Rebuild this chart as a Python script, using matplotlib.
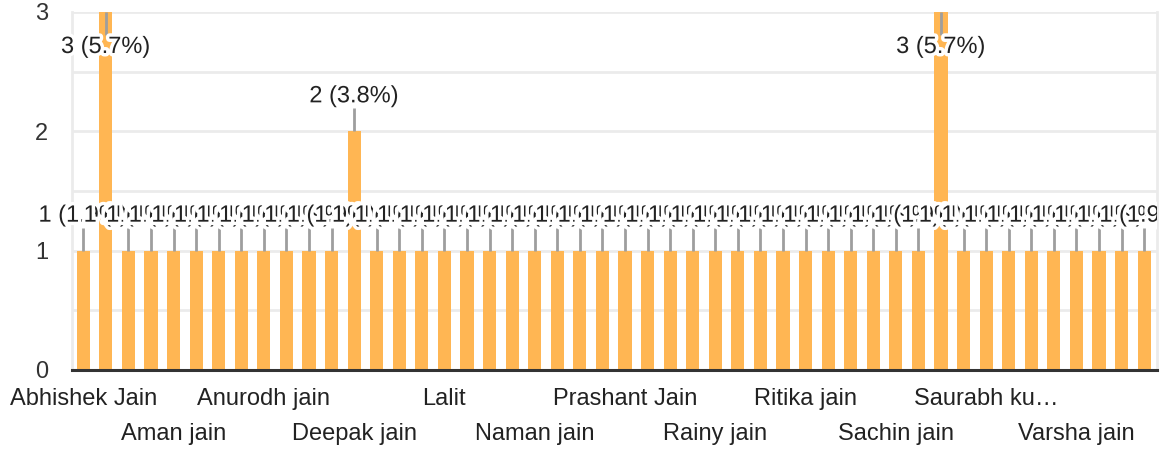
import numpy as np
import matplotlib
matplotlib.use("Agg")
import matplotlib.pyplot as plt
import matplotlib.patheffects as pe
from matplotlib.transforms import Bbox, TransformedBbox, blended_transform_factory

# 48 respondents; only every 4th name is printed on the axis
names = [""] * 48
shown = {0: "Abhishek Jain", 4: "Aman jain", 8: "Anurodh jain", 12: "Deepak jain",
         16: "Lalit", 20: "Naman jain", 24: "Prashant Jain", 28: "Rainy jain",
         32: "Ritika jain", 36: "Sachin jain", 40: "Saurabh ku\u2026", 44: "Varsha jain"}
for k, v in shown.items():
    names[k] = v

counts = [1, 3, 1, 1, 1, 1, 1, 1, 1, 1, 1, 1,
          2, 1, 1, 1, 1, 1, 1, 1, 1, 1, 1, 1,
          1, 1, 1, 1, 1, 1, 1, 1, 1, 1, 1, 1,
          1, 1, 3, 1, 1, 1, 1, 1, 1, 1, 1, 1]

plt.rcParams["font.family"] = ["Liberation Sans", "DejaVu Sans"]

BAR = "#ffb653"
GRID = "#ebebeb"
TXT = "#222222"
FS = 17

fig = plt.figure(figsize=(11.7, 4.5), dpi=100)
ax = fig.add_axes([72 / 1170, 80 / 450, 1085 / 1170, 358 / 450])

x = np.arange(len(counts))
total = sum(counts)
ymax = 3
ax.bar(x, counts, width=0.58, color=BAR, zorder=2)

# labels get cut at the right edge of the plot, like the original
clip = TransformedBbox(Bbox([[-1, 0], [1, 1]]),
                       blended_transform_factory(ax.transAxes, fig.transFigure))

# px -> data units on y
ppu = 358 / ymax
line_len = 23 / ppu
lab_off = 35 / ppu
halo = [pe.withStroke(linewidth=5, foreground="white")]
for xi, c in zip(x, counts):
    lab = f"{c} ({100 * c / total:.1f}%)"
    if c >= ymax:
        ax.vlines(xi, c - line_len, c, color="#9e9e9e", lw=2, zorder=3)
        ty = c - lab_off
    else:
        ax.vlines(xi, c, c + line_len, color="#9e9e9e", lw=2, zorder=3)
        ty = c + lab_off
    t = ax.text(xi, ty, lab, ha="center", va="center", fontsize=FS, color=TXT,
                zorder=4, path_effects=halo)
    t.set_clip_box(clip)
    t.set_clip_on(True)

ax.set_xlim(-0.5, len(counts) - 0.43)
ax.set_ylim(0, ymax)

ax.set_yticks([0, 1, 2, 3])
ax.set_yticks([0.5, 1.5, 2.5], minor=True)
ax.yaxis.grid(True, which="both", color=GRID, lw=2, zorder=0)
ax.tick_params(axis="y", which="both", length=0, labelsize=FS, labelcolor="#333333", pad=17)

# staggered category labels: two rows
ax.set_xticks(x[0::8], [names[i] for i in x[0::8]])
ax.set_xticks(x[4::8], [names[i] for i in x[4::8]], minor=True)
ax.tick_params(axis="x", which="both", length=0, labelsize=FS, labelcolor="#222222")
ax.tick_params(axis="x", which="major", pad=13)
ax.tick_params(axis="x", which="minor", pad=38)

for s in ["left", "right", "top"]:
    ax.spines[s].set_color(GRID)
    ax.spines[s].set_linewidth(2)
ax.spines["top"].set_visible(False)
ax.spines["bottom"].set_color("#333333")
ax.spines["bottom"].set_linewidth(2.2)
ax.spines["bottom"].set_zorder(5)

fig.savefig("out.png", dpi=100)
